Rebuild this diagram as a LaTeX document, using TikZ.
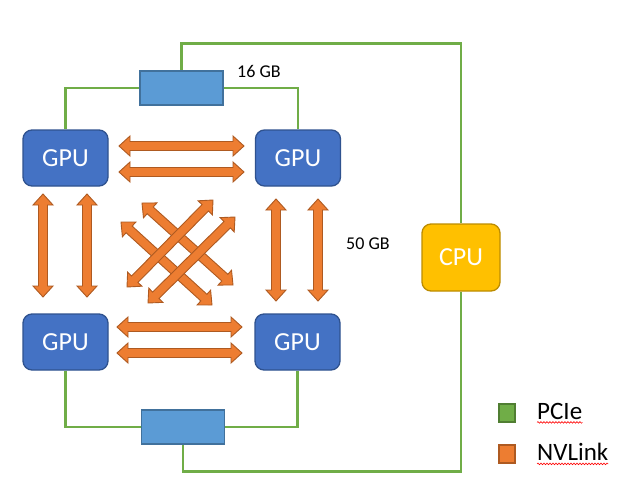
\documentclass[tikz,border=0pt]{standalone}
\usepackage{fontspec}
\setmainfont{Carlito}
\usetikzlibrary{calc,decorations.pathmorphing}
\pgfdeclarelayer{background}
\pgfsetlayers{background,main}
\definecolor{gpufill}{HTML}{4472C4}
\definecolor{gpuline}{HTML}{2F528F}
\definecolor{swfill}{HTML}{5B9BD5}
\definecolor{swline}{HTML}{41719C}
\definecolor{cpufill}{HTML}{FFC000}
\definecolor{cpuline}{HTML}{BC8C00}
\definecolor{pcie}{HTML}{70AD47}
\definecolor{pcieline}{HTML}{507E32}
\definecolor{nvfill}{HTML}{ED7D31}
\definecolor{nvline}{HTML}{AE5A21}
\tikzset{
  gpubox/.style={draw=gpuline, fill=gpufill, line width=1.3pt, rounded corners=9pt,
    minimum width=85pt, minimum height=56pt, text=white, font=\fontsize{26}{30}\selectfont},
  cpubox/.style={draw=cpuline, fill=cpufill, line width=1.3pt, rounded corners=9pt,
    minimum width=78pt, minimum height=67pt, text=white, font=\fontsize{26}{30}\selectfont},
  swbox/.style={draw=swline, fill=swfill, line width=1.3pt, minimum width=83pt, minimum height=34pt},
  pcielink/.style={draw=pcie, line width=2.6pt},
  nvl/.style={draw=nvline, fill=nvfill, line width=0.9pt, line join=miter},
  lbl/.style={font=\fontsize{18}{21}\selectfont, inner sep=0pt},
  legtxt/.style={font=\fontsize{25}{29}\selectfont, inner sep=0pt, anchor=west},
  legsq/.style={line width=1.3pt, minimum width=16pt, minimum height=18pt, inner sep=0pt},
  squig/.style={draw=red, line width=0.6pt, decorate, decoration={snake, amplitude=0.8pt, segment length=3pt}}
}
\newcommand{\dblarr}[2]{%
  \draw[nvl] (#1)
   -- ($($(#1)!11pt!(#2)$)!10pt!90:(#2)$)
   -- ($($(#1)!11pt!(#2)$)!4.5pt!90:(#2)$)
   -- ($($(#2)!11pt!(#1)$)!4.5pt!-90:(#1)$)
   -- ($($(#2)!11pt!(#1)$)!10pt!-90:(#1)$)
   -- (#2)
   -- ($($(#2)!11pt!(#1)$)!10pt!90:(#1)$)
   -- ($($(#2)!11pt!(#1)$)!4.5pt!90:(#1)$)
   -- ($($(#1)!11pt!(#2)$)!4.5pt!-90:(#2)$)
   -- ($($(#1)!11pt!(#2)$)!10pt!-90:(#2)$)
   -- cycle;}
\begin{document}
\begin{tikzpicture}[x=1pt,y=-1pt]
\useasboundingbox (0,0) rectangle (634,493);
% nodes
\node[gpubox] (g1) at (65.5,158) {GPU};
\node[gpubox] (g2) at (298,158) {GPU};
\node[gpubox] (g3) at (65.5,342) {GPU};
\node[gpubox] (g4) at (297.5,342) {GPU};
\node[cpubox] (cpu) at (461,257.5) {CPU};
\node[swbox] (s1) at (181.5,88) {};
\node[swbox] (s2) at (183,427) {};
% PCIe links
\begin{pgfonlayer}{background}
\draw[pcielink] (s1.west) -| (g1.north);
\draw[pcielink] (s1.east) -| (g2.north);
\draw[pcielink] (s1.north) -- ++(0,-27) -| (cpu.north);
\draw[pcielink] (cpu.south) -- ++(0,180) -| (s2.south);
\draw[pcielink] (g3.south) |- (s2.west);
\draw[pcielink] (g4.south) |- (s2.east);
\end{pgfonlayer}
% NVLink arrow end points
\coordinate (ha1) at (119,146); \coordinate (hb1) at (244,146);
\coordinate (ha2) at (119,172); \coordinate (hb2) at (244,172);
\coordinate (ha3) at (117,327); \coordinate (hb3) at (242,327);
\coordinate (ha4) at (117,353); \coordinate (hb4) at (242,353);
\coordinate (va1) at (43,194); \coordinate (vb1) at (43,297);
\coordinate (va2) at (87,194); \coordinate (vb2) at (87,297);
\coordinate (va3) at (276,199); \coordinate (vb3) at (276,301);
\coordinate (va4) at (318,199); \coordinate (vb4) at (318,301);
\coordinate (da1) at (142,203); \coordinate (db1) at (233,285);
\coordinate (da2) at (121,222); \coordinate (db2) at (212,305);
\coordinate (da3) at (127,287); \coordinate (db3) at (213,200);
\coordinate (da4) at (148,303); \coordinate (db4) at (235,217);
\dblarr{ha1}{hb1}\dblarr{ha2}{hb2}\dblarr{ha3}{hb3}\dblarr{ha4}{hb4}
\dblarr{va1}{vb1}\dblarr{va2}{vb2}\dblarr{va3}{vb3}\dblarr{va4}{vb4}
\dblarr{da1}{db1}\dblarr{da2}{db2}\dblarr{da3}{db3}\dblarr{da4}{db4}
% labels
\node[lbl, anchor=west] (l16) at (237,71) {16 GB};
\node[lbl, anchor=west] (l50) at (346,244) {50 GB};
% legend
\node[legsq, draw=pcieline, fill=pcie] (lg1) at (507,413) {};
\node[legsq, draw=nvline, fill=nvfill] (lg2) at (507,454) {};
\node[legtxt] (t1) at (537,411) {PCIe};
\node[legtxt] (t2) at (537,452) {NVLink};
\draw[squig] ($(t1.south west)+(0,3)$) -- ($(t1.south east)+(0,3)$);
\draw[squig] ($(t2.south west)+(0,3)$) -- ($(t2.south east)+(0,3)$);
\end{tikzpicture}
\end{document}
